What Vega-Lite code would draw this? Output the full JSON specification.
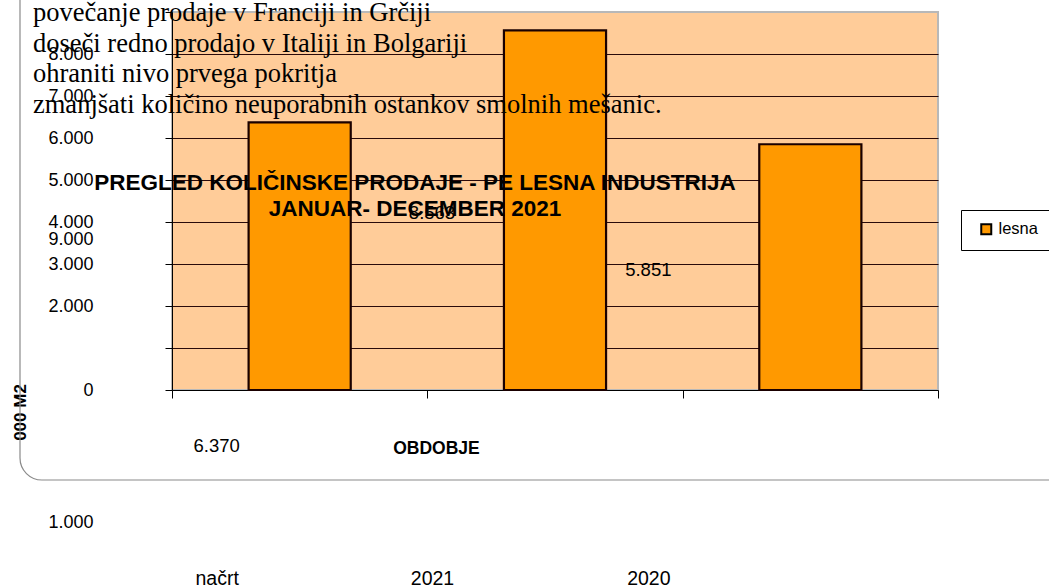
{
  "$schema": "https://vega.github.io/schema/vega-lite/v6.json",
  "width": 766,
  "height": 378,
  "autosize": {"type": "none"},
  "padding": {"left": 172, "top": 12, "right": 111, "bottom": 198},
  "background": "white",
  "config": {
    "locale": {"number": {"decimal": ",", "thousands": ".", "grouping": [3], "currency": ["", " €"]}},
    "font": "Liberation Sans",
    "view": {"fill": "#FFCC99", "stroke": "#b8b8b8", "strokeWidth": 2}
  },
  "title": {
    "text": ["PREGLED KOLIČINSKE PRODAJE - PE LESNA INDUSTRIJA", "JANUAR- DECEMBER 2021"],
    "anchor": "middle",
    "frame": "group",
    "orient": "top",
    "font": "Liberation Sans",
    "fontSize": 22.5,
    "fontWeight": "bold",
    "color": "#000000",
    "baseline": "top",
    "offset": 0,
    "dx": -140,
    "dy": 249,
    "lineHeight": 26
  },
  "datasets": {
    "sales": [
      {"period": "načrt", "series": "lesna", "value": 6370},
      {"period": "2021", "series": "lesna", "value": 8563},
      {"period": "2020", "series": "lesna", "value": 5851}
    ],
    "notes": [
      {"note": "povečanje prodaje v Franciji in Grčiji\ndoseči redno prodajo v Italiji in Bolgariji\nohraniti nivo prvega pokritja\nzmanjšati količino neuporabnih ostankov smolnih mešanic."}
    ]
  },
  "layer": [
    {
      "data": {"values": [{}]},
      "mark": {"type": "rect", "fill": null, "stroke": "#8a8a8a", "strokeWidth": 1.2, "cornerRadius": 22, "clip": false},
      "encoding": {
        "x": {"value": -152},
        "x2": {"value": 900},
        "y": {"value": -40},
        "y2": {"value": 468}
      }
    },
    {
      "data": {"name": "sales"},
      "mark": {"type": "bar", "stroke": "#1a0000", "strokeWidth": 2.2, "width": {"band": 0.4}},
      "encoding": {
        "x": {
          "field": "period",
          "type": "nominal",
          "sort": null,
          "scale": {"paddingInner": 0, "paddingOuter": 0},
          "axis": {
            "title": "OBDOBJE",
            "labelAngle": 0,
            "labelFont": "Liberation Sans",
            "labelFontSize": 19.5,
            "labelColor": "#000000",
            "labelPadding": 171,
            "labelOffset": {"expr": "datum.value == 'načrt' ? -83 : datum.value == '2021' ? -123 : -162"},
            "tickBand": "extent",
            "tickSize": 8,
            "tickColor": "#000000",
            "domainColor": "#000000",
            "titleFont": "Liberation Sans",
            "titleFontSize": 17.5,
            "titleFontWeight": "bold",
            "titleColor": "#000000",
            "titleX": 264,
            "titleY": 58,
            "titleAlign": "center",
            "titleBaseline": "middle"
          }
        },
        "y": {
          "field": "value",
          "type": "quantitative",
          "scale": {"domain": [0, 9000], "nice": false},
          "axis": {
            "title": "000 M2",
            "values": [0, 1000, 2000, 3000, 4000, 5000, 6000, 7000, 8000, 9000],
            "format": ",d",
            "labelFont": "Liberation Sans",
            "labelFontSize": 18,
            "labelColor": "#000000",
            "labelPadding": 72,
            "labelOffset": {"expr": "datum.value == 9000 ? 227 : datum.value == 1000 ? 174 : 0"},
            "labelOverlap": false,
            "labelFlush": false,
            "labelBound": false,
            "tickSize": 7,
            "tickColor": "#000000",
            "domainColor": "#000000",
            "grid": true,
            "gridColor": {"expr": "datum.value == 9000 || datum.value == 0 ? 'transparent' : '#2a0a0a'"},
            "gridOpacity": 1,
            "titleFont": "Liberation Sans",
            "titleFontSize": 17,
            "titleFontWeight": "bold",
            "titleColor": "#000000",
            "titleAngle": -90,
            "titleX": -152,
            "titleY": 400,
            "titleAlign": "center",
            "titleBaseline": "middle"
          }
        },
        "color": {
          "field": "series",
          "type": "nominal",
          "scale": {"range": ["#FF9900"]},
          "legend": {
            "title": null,
            "orient": "none",
            "legendX": 789,
            "legendY": 198,
            "direction": "vertical",
            "symbolType": "square",
            "symbolSize": 100,
            "symbolStrokeColor": "#000000",
            "symbolStrokeWidth": 2,
            "symbolOffset": 6,
            "labelFont": "Liberation Sans",
            "labelFontSize": 16.5,
            "labelColor": "#000000",
            "labelOffset": 4,
            "padding": 11,
            "strokeColor": "#000000",
            "fillColor": "#ffffff"
          }
        }
      }
    },
    {
      "data": {"name": "sales"},
      "mark": {
        "type": "text",
        "font": "Liberation Sans",
        "fontSize": 18.5,
        "color": "#000000",
        "align": "center",
        "baseline": "middle",
        "dx": {"expr": "datum.period == 'načrt' ? -83 : datum.period == '2021' ? -123 : -162"},
        "dy": {"expr": "datum.period == 'načrt' ? 324 : datum.period == '2021' ? 183 : 126"}
      },
      "encoding": {
        "x": {"field": "period", "type": "nominal", "sort": null},
        "y": {"field": "value", "type": "quantitative"},
        "text": {"field": "value", "type": "quantitative", "format": ",d"}
      }
    },
    {
      "data": {"name": "notes"},
      "mark": {
        "type": "text",
        "font": "Liberation Serif",
        "fontSize": 26.5,
        "lineHeight": 30.7,
        "lineBreak": "\n",
        "color": "#000000",
        "align": "left",
        "baseline": "alphabetic"
      },
      "encoding": {
        "text": {"field": "note", "type": "nominal"},
        "x": {"value": -139},
        "y": {"value": 9}
      }
    }
  ]
}
